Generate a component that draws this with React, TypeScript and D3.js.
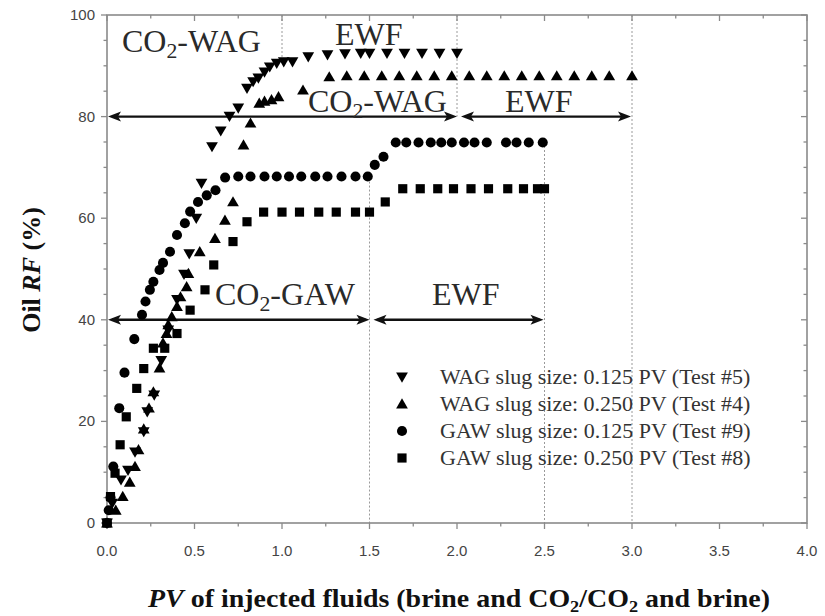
import React from "react";
import * as d3 from "d3";

// Oil recovery factor (%) against injected pore volumes, four core-flood tests
const wag125Pv = [0, 0.03, 0.08, 0.12, 0.16, 0.21, 0.23, 0.27, 0.31, 0.35, 0.40, 0.44, 0.47, 0.51, 0.54, 0.60, 0.65, 0.70, 0.75, 0.80, 0.835, 0.865, 0.90, 0.93, 0.97, 1.01, 1.06, 1.15, 1.26, 1.36, 1.45, 1.5, 1.6, 1.7, 1.8, 1.9, 2.0];
const wag125Rf = [0, 3.9, 8.5, 10.4, 14.0, 18.0, 21.9, 25.2, 32.0, 38.0, 44.0, 49.0, 53.0, 60.0, 66.9, 74.1, 77.2, 80.1, 81.7, 85.6, 86.9, 87.6, 88.8, 89.8, 90.5, 90.8, 90.8, 91.8, 92.2, 92.4, 92.5, 92.5, 92.5, 92.5, 92.5, 92.5, 92.5];

const wag250Pv = [0, 0.05, 0.09, 0.13, 0.16, 0.18, 0.21, 0.24, 0.265, 0.30, 0.32, 0.34, 0.35, 0.37, 0.40, 0.42, 0.455, 0.465, 0.53, 0.617, 0.674, 0.72, 0.78, 0.82, 0.87, 0.90, 0.94, 0.98, 1.12, 1.27, 1.37, 1.47, 1.57, 1.67, 1.77, 1.87, 1.97, 2.07, 2.17, 2.27, 2.37, 2.47, 2.57, 2.67, 2.77, 2.87, 3.0];
const wag250Rf = [0, 2.5, 5.2, 8.0, 11.1, 14.4, 18.5, 22.6, 25.8, 30.5, 35.4, 37.3, 39.0, 40.6, 42.6, 44.5, 46.5, 49.1, 53.4, 56.0, 59.6, 63.2, 74.4, 78.7, 82.6, 83.0, 83.3, 83.9, 85.2, 87.8, 88.0, 88.0, 88.0, 88.0, 88.0, 88.0, 88.0, 88.0, 88.0, 88.0, 88.0, 88.0, 88.0, 88.0, 88.0, 88.0, 88.0];

const gaw125Pv = [0, 0.01, 0.02, 0.036, 0.07, 0.10, 0.156, 0.20, 0.22, 0.245, 0.265, 0.30, 0.32, 0.36, 0.40, 0.445, 0.475, 0.52, 0.57, 0.62, 0.675, 0.75, 0.82, 0.90, 0.97, 1.04, 1.11, 1.19, 1.26, 1.34, 1.42, 1.49, 1.53, 1.58, 1.65, 1.71, 1.78, 1.85, 1.91, 1.97, 2.04, 2.10, 2.17, 2.28, 2.34, 2.41, 2.49];
const gaw125Rf = [0, 2.5, 5.0, 11.1, 22.6, 29.6, 36.2, 41.0, 43.6, 45.9, 47.5, 49.8, 51.2, 53.4, 56.7, 59.0, 61.3, 63.2, 64.5, 65.5, 68.0, 68.2, 68.2, 68.2, 68.2, 68.2, 68.2, 68.2, 68.2, 68.2, 68.2, 68.2, 70.5, 72.1, 74.9, 74.9, 74.9, 74.9, 74.9, 74.9, 74.9, 74.9, 74.9, 74.9, 74.9, 74.9, 74.9];

const gaw250Pv = [0, 0.02, 0.046, 0.075, 0.11, 0.17, 0.21, 0.265, 0.33, 0.40, 0.475, 0.56, 0.61, 0.72, 0.80, 0.895, 1.0, 1.10, 1.21, 1.31, 1.42, 1.50, 1.59, 1.69, 1.79, 1.89, 1.98, 2.08, 2.18, 2.29, 2.38, 2.46, 2.50];
const gaw250Rf = [0, 5.2, 9.8, 15.4, 20.9, 26.5, 30.4, 34.4, 34.4, 37.3, 41.9, 45.9, 50.8, 55.4, 59.3, 61.2, 61.2, 61.2, 61.2, 61.2, 61.2, 61.2, 63.2, 65.8, 65.8, 65.8, 65.8, 65.8, 65.8, 65.8, 65.8, 65.8, 65.8];

const legendLabels = [
  "WAG slug size: 0.125 PV (Test #5)",
  "WAG slug size: 0.250 PV (Test #4)",
  "GAW slug size: 0.125 PV (Test #9)",
  "GAW slug size: 0.250 PV (Test #8)",
];
const markerKinds = ["down", "up", "circle", "square"];

const xTicks = [0, 0.5, 1.0, 1.5, 2.0, 2.5, 3.0, 3.5, 4.0];
const yTicks = [0, 20, 40, 60, 80, 100];

// Injection stage spans (PV) drawn as double arrows at a given RF level
const stageArrows = [
  { rf: 80, from: 0, to: 2.0 },
  { rf: 80, from: 2.0, to: 3.0 },
  { rf: 40, from: 0, to: 1.5 },
  { rf: 40, from: 1.5, to: 2.5 },
];
// Stage boundaries (PV) with the RF range they span
const stageBounds = [
  { pv: 1.0, top: 100, bottom: 91 },
  { pv: 1.5, top: 68, bottom: 0 },
  { pv: 2.0, top: 100, bottom: 80 },
  { pv: 2.5, top: 75, bottom: 0 },
  { pv: 3.0, top: 100, bottom: 0 },
];

const W = 825;
const H = 616;
const left = 107;
const right = 807;
const top = 15;
const bottom = 523;

const serif = "'Liberation Serif', 'Times New Roman', serif";
const sans = "'Liberation Sans', Arial, sans-serif";

function markerPath(kind: string): string {
  if (kind === "circle") return d3.symbol(d3.symbolCircle, 80)() as string;
  if (kind === "square") return d3.symbol(d3.symbolSquare, 84)() as string;
  return d3.symbol(d3.symbolTriangle, 60)() as string;
}

function Marker({ kind, x, y }: { kind: string; x: number; y: number }) {
  const rot = kind === "down" ? " rotate(180)" : "";
  const dy = kind === "down" ? -1 : kind === "up" ? 1 : 0;
  return <path d={markerPath(kind)} transform={`translate(${x},${y + dy})${rot}`} fill="#000" />;
}

function DoubleArrow({ x1, x2, y }: { x1: number; x2: number; y: number }) {
  const L = 13;
  const h = 5;
  return (
    <g>
      <line x1={x1 + 4} x2={x2 - 4} y1={y} y2={y} stroke="#111" strokeWidth={2.4} />
      <path d={`M${x1},${y} L${x1 + L},${y - h} L${x1 + L - 3},${y} L${x1 + L},${y + h} Z`} fill="#111" />
      <path d={`M${x2},${y} L${x2 - L},${y - h} L${x2 - L + 3},${y} L${x2 - L},${y + h} Z`} fill="#111" />
    </g>
  );
}

function Co2Label({ x, y, rest, size }: { x: number; y: number; rest: string; size: number }) {
  return (
    <text x={x} y={y} fontFamily={serif} fontSize={size} fill="#2a2a2a">
      CO
      <tspan fontSize={size * 0.68} dy={size * 0.2}>2</tspan>
      <tspan dy={-size * 0.2}>{rest}</tspan>
    </text>
  );
}

export default function App() {
  const x = d3.scaleLinear().domain([0, 4]).range([left, right]);
  const y = d3.scaleLinear().domain([0, 100]).range([bottom, top]);

  const series = [
    { kind: "down", pv: wag125Pv, rf: wag125Rf },
    { kind: "up", pv: wag250Pv, rf: wag250Rf },
    { kind: "circle", pv: gaw125Pv, rf: gaw125Rf },
    { kind: "square", pv: gaw250Pv, rf: gaw250Rf },
  ];

  const xMinor = d3.range(0, 4.001, 0.25);
  const yMinor = d3.range(0, 100.001, 5);

  return (
    <svg
      width={W}
      height={H}
      viewBox={`0 0 ${W} ${H}`}
      style={{ position: "absolute", left: 0, top: 0, background: "#fff" }}
    >
      <rect x={0} y={0} width={W} height={H} fill="#fff" />

      {/* stage boundaries */}
      {stageBounds.map((b, i) => (
        <line
          key={`b${i}`}
          x1={x(b.pv)}
          x2={x(b.pv)}
          y1={y(b.top)}
          y2={y(b.bottom)}
          stroke="#9a9a9a"
          strokeWidth={1}
          strokeDasharray="2,2"
        />
      ))}

      {/* frame */}
      <rect x={left} y={top} width={right - left} height={bottom - top} fill="none" stroke="#8a8a8a" strokeWidth={1.6} />

      {/* x ticks: outward at bottom, inward at top */}
      {xMinor.map((v, i) => {
        const major = i % 2 === 0;
        const len = major ? 6 : 3.5;
        return (
          <g key={`xt${i}`} stroke="#8a8a8a" strokeWidth={1.3}>
            <line x1={x(v)} x2={x(v)} y1={bottom} y2={bottom + len} />
            <line x1={x(v)} x2={x(v)} y1={top} y2={top + len} />
          </g>
        );
      })}
      {/* y ticks: outward at left, inward at right */}
      {yMinor.map((v, i) => {
        const major = i % 4 === 0;
        const len = major ? 6 : 3.5;
        return (
          <g key={`yt${i}`} stroke="#8a8a8a" strokeWidth={1.3}>
            <line x1={left - len} x2={left} y1={y(v)} y2={y(v)} />
            <line x1={right - len} x2={right} y1={y(v)} y2={y(v)} />
          </g>
        );
      })}

      {xTicks.map((v) => (
        <text key={`xl${v}`} x={x(v)} y={bottom + 33} textAnchor="middle" fontFamily={sans} fontSize={15} fill="#444">
          {v.toFixed(1)}
        </text>
      ))}
      {yTicks.map((v) => (
        <text key={`yl${v}`} x={left - 12} y={y(v) + 5} textAnchor="end" fontFamily={sans} fontSize={15} fill="#444">
          {v}
        </text>
      ))}

      {/* stage arrows */}
      {stageArrows.map((a, i) => (
        <DoubleArrow
          key={`a${i}`}
          x1={x(a.from) + (a.from > 0 ? 4 : 1)}
          x2={x(a.to) - (a.to === 2.0 || a.to === 1.5 ? 0 : 1)}
          y={y(a.rf)}
        />
      ))}

      {/* stage labels */}
      <Co2Label x={122} y={52} rest="-WAG" size={32} />
      <text x={335} y={45} fontFamily={serif} fontSize={32} fill="#2a2a2a">EWF</text>
      <Co2Label x={308} y={112} rest="-WAG" size={32} />
      <text x={505} y={112} fontFamily={serif} fontSize={32} fill="#2a2a2a">EWF</text>
      <Co2Label x={215} y={305} rest="-GAW" size={32} />
      <text x={432} y={305} fontFamily={serif} fontSize={32} fill="#2a2a2a">EWF</text>

      {/* data */}
      {series.map((s) => (
        <g key={s.kind}>
          {s.pv.map((v, i) => (
            <Marker key={i} kind={s.kind} x={x(v)} y={y(s.rf[i])} />
          ))}
        </g>
      ))}

      {/* legend */}
      {legendLabels.map((lab, i) => (
        <g key={`lg${i}`} transform={`translate(0,${377 + i * 27})`}>
          <Marker kind={markerKinds[i]} x={402} y={0} />
          <text x={440} y={7} fontFamily={serif} fontSize={22} fill="#333">
            {lab}
          </text>
        </g>
      ))}

      {/* axis titles */}
      <text
        x={459}
        y={607}
        textAnchor="middle"
        fontFamily={serif}
        fontWeight="bold"
        fontSize={26}
        fill="#111"
        textLength={622}
        lengthAdjust="spacingAndGlyphs"
      >
        <tspan fontStyle="italic">PV</tspan>
        <tspan> of injected fluids (brine and CO</tspan>
        <tspan fontSize={17} dy={5}>2</tspan>
        <tspan dy={-5}>/CO</tspan>
        <tspan fontSize={17} dy={5}>2</tspan>
        <tspan dy={-5}> and brine)</tspan>
      </text>
      <text
        transform="translate(40,270) rotate(-90)"
        textAnchor="middle"
        fontFamily={serif}
        fontWeight="bold"
        fontSize={26}
        fill="#111"
      >
        Oil <tspan fontStyle="italic">RF</tspan> (%)
      </text>
    </svg>
  );
}
